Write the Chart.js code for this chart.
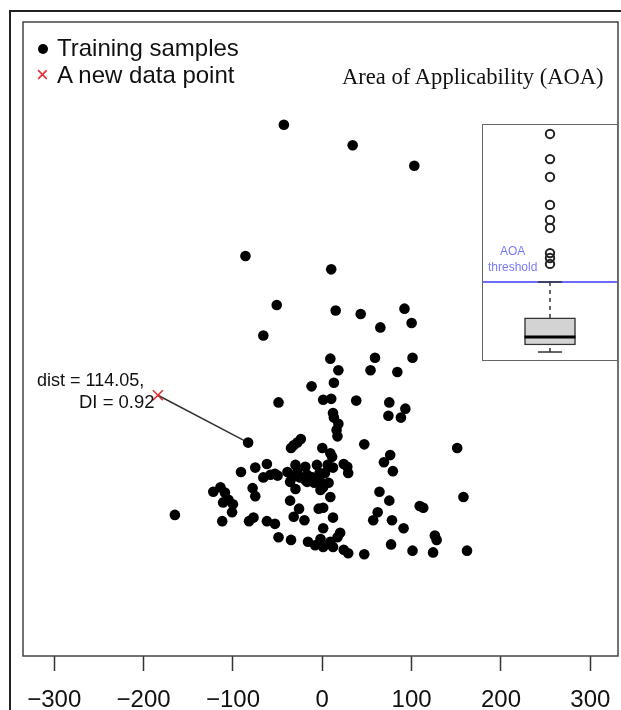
<!DOCTYPE html>
<html>
<head>
<meta charset="utf-8">
<script src="https://cdn.jsdelivr.net/npm/chart.js@4.4.1/dist/chart.umd.min.js"></script>
<style>
  html, body { margin: 0; padding: 0; background: #fff; overflow: hidden; }
  #wrap { position: relative; width: 621px; height: 710px; overflow: hidden; }
  #frame { position: absolute; left: 9px; top: 10px; width: 700px; height: 800px; border: 2px solid #222; box-sizing: border-box; }
  #main { position: absolute; left: 0; top: 0; }
  #inset { position: absolute; left: 482px; top: 124px; width: 134px; height: 235px; border: 1px solid #666; background: #fff; }
  #insetCanvas { display: block; }
  .txt { position: absolute; white-space: nowrap; font-family: 'Liberation Sans', Arial, sans-serif; color: #111; }
  .dot { position: absolute; left: 38px; top: 44px; width: 10px; height: 10px; border-radius: 50%; background: #000; }
</style>
</head>
<body>
<div id="wrap">
  <div id="frame"></div>
  <canvas id="main" width="621" height="710"></canvas>
  <div id="inset"><canvas id="insetCanvas" width="134" height="235"></canvas></div>

  <div class="dot"></div>
  <div class="txt" style="left:57px; top:36px; font-size:24px; line-height:24px;">Training samples</div>
  <div class="txt" style="left:36px; top:63px; font-size:22px; line-height:24px; color:#e8262b;">&times;</div>
  <div class="txt" style="left:57px; top:63px; font-size:24px; line-height:24px;">A new data point</div>
  <div class="txt" style="left:342px; top:66px; font-size:22.6px; line-height:22px; font-family:'Liberation Serif','Times New Roman',serif;">Area of Applicability (AOA)</div>

  <div class="txt" style="left:37px; top:371px; font-size:18px; line-height:18px;">dist = 114.05,</div>
  <div class="txt" style="left:79px; top:393px; font-size:18.5px; line-height:18px;">DI = 0.92</div>

  <div class="txt" style="left:500px; top:245px; font-size:12px; line-height:12px; color:#7a7aff;">AOA</div>
  <div class="txt" style="left:488px; top:261px; font-size:12px; line-height:12px; color:#7a7aff;">threshold</div>
</div>

<script>
// training samples (feature space, same units on both axes)
const trainX = [-43, 34, 103, -86, 10, -51, 15, 43, 92, 100, 65, -66, 9, 59, 101, 18, 54, 84, -12, 13,
  -49, 1, 10, 38, 75, 93, 12, 13, 74, 88, 18, 16, 17, -83, -24, -28, -32, -35, 0, 47,
  9, 151, 76, 69, 79, -91, -75, -62, -66, -58, -53, -39, -34, -30, -28, -25, -19, -17, -30, -9,
  -6, -3, 1, 3, 6, 12, 24, 28, 29, 9, -2, -17, -122, -114, -109, -105, -111, -100, -101, -78,
  -75, -165, -112, -82, -77, -62, -53, -36, -26, -32, -20, -4, 1, 12, 1, -49, -35, -16, -8, -2,
  1, 9, 12, 17, 20, 24, 29, 47, 64, 75, 62, 57, 78, 91, 77, 101, 109, 113, 126, 128,
  124, 158, 162, -50, -36, -11, -2, 7, 11, -19];
const trainY = [240, 217, 194, 93, 78, 38, 32, 28, 34, 18, 13, 4, -22, -21, -21, -35, -35, -37, -53, -49,
  -71, -68, -67, -69, -71, -78, -83, -88, -86, -88, -95, -102, -109, -116, -112, -116, -119, -122, -122, -118,
  -128, -122, -130, -138, -148, -149, -144, -140, -155, -152, -151, -149, -155, -141, -149, -155, -143, -160, -168, -161,
  -141, -150, -166, -150, -141, -144, -140, -143, -150, -177, -169, -152, -171, -166, -172, -180, -183, -185, -194, -167,
  -176, -197, -204, -204, -200, -204, -207, -181, -190, -199, -203, -190, -189, -200, -212, -222, -225, -227, -231, -224,
  -233, -227, -233, -222, -217, -236, -240, -241, -171, -181, -194, -203, -203, -212, -230, -237, -187, -189, -220, -225,
  -239, -177, -237, -153, -160, -155, -160, -161, -132, -158];

// new data point and its nearest training sample
const newX = [-184];
const newY = [-63];
const nearestX = [-83];
const nearestY = [-116];

const xTicks = [-300, -200, -100, 0, 100, 200, 300];

// inset: dissimilarity index (DI) of the training data
const diOutliers = [0.962, 0.855, 0.779, 0.660, 0.596, 0.562, 0.455, 0.434, 0.409];
const diWhiskerLow = 0.034;
const diQ1 = 0.064;
const diMedian = 0.098;
const diQ3 = 0.179;
const diWhiskerHigh = 0.332;
const aoaThreshold = 0.332;

const boxPlugin = {
  id: 'box',
  beforeDatasetsDraw(chart) {
    const { ctx, chartArea: a } = chart;
    ctx.save();
    ctx.strokeStyle = '#444';
    ctx.lineWidth = 1.5;
    ctx.strokeRect(a.left, a.top, a.right - a.left, a.bottom - a.top);
    ctx.restore();
  }
};

const trainData = trainX.map((x, i) => ({ x: x, y: trainY[i] }));

new Chart(document.getElementById('main'), {
  type: 'scatter',
  data: {
    datasets: [
      {
        data: trainData,
        pointRadius: 5.3,
        pointBackgroundColor: '#000',
        pointBorderWidth: 0
      },
      {
        data: [{ x: newX[0], y: newY[0] }],
        pointStyle: 'crossRot',
        pointRadius: 7,
        pointBorderColor: '#e8262b',
        pointBorderWidth: 1.5
      },
      {
        type: 'line',
        data: [{ x: newX[0], y: newY[0] }, { x: nearestX[0], y: nearestY[0] }],
        borderColor: '#333',
        borderWidth: 1.5,
        pointRadius: 0
      }
    ]
  },
  options: {
    responsive: false,
    animation: false,
    layout: { autoPadding: false, padding: { left: 23, right: 3, top: 22, bottom: 0 } },
    plugins: { legend: { display: false }, tooltip: { enabled: false } },
    scales: {
      x: {
        type: 'linear',
        min: -335,
        max: 331,
        afterBuildTicks: s => { s.ticks = xTicks.map(v => ({ value: v })); },
        afterFit: s => { s.height = 54; s.paddingLeft = 0; s.paddingRight = 0; },
        grid: { drawOnChartArea: false, drawTicks: true, tickLength: 15, tickColor: '#333', tickWidth: 1.5 },
        border: { display: false },
        ticks: {
          font: { family: 'Liberation Sans', size: 24 },
          color: '#111',
          padding: 15,
          maxRotation: 0,
          autoSkip: false,
          callback: v => String(v).replace('-', '\u2212')
        }
      },
      y: { display: false, min: -355, max: 355 }
    }
  },
  plugins: [boxPlugin]
});

// inset boxplot
new Chart(document.getElementById('insetCanvas'), {
  type: 'scatter',
  data: {
    datasets: [
      {
        data: diOutliers.map(v => ({ x: 0.5, y: v })),
        pointRadius: 4.2,
        pointBackgroundColor: 'rgba(0,0,0,0)',
        pointBorderColor: '#222',
        pointBorderWidth: 2
      },
      {
        type: 'line',
        data: [{ x: 0.31, y: diMedian }, { x: 0.69, y: diMedian }],
        borderColor: '#000', borderWidth: 3, pointRadius: 0
      },
      {
        type: 'line',
        data: [{ x: 0.41, y: diWhiskerHigh }, { x: 0.59, y: diWhiskerHigh }],
        borderColor: '#333', borderWidth: 1.5, pointRadius: 0
      },
      {
        type: 'line',
        data: [{ x: 0.41, y: diWhiskerLow }, { x: 0.59, y: diWhiskerLow }],
        borderColor: '#333', borderWidth: 1.5, pointRadius: 0
      },
      {
        type: 'line',
        data: [{ x: 0.5, y: diQ3 }, { x: 0.5, y: diWhiskerHigh }],
        borderColor: '#333', borderWidth: 1.5, borderDash: [4, 4], pointRadius: 0
      },
      {
        type: 'line',
        data: [{ x: 0.5, y: diWhiskerLow }, { x: 0.5, y: diQ1 }],
        borderColor: '#333', borderWidth: 1.5, borderDash: [4, 4], pointRadius: 0
      },
      {
        type: 'line',
        data: [{ x: 0, y: aoaThreshold }, { x: 1, y: aoaThreshold }],
        borderColor: '#6b6bff', borderWidth: 2, pointRadius: 0
      },
      {
        type: 'bar',
        data: [{ x: 0.5, y: [diQ1, diQ3] }],
        backgroundColor: '#d3d3d3',
        borderColor: '#333',
        borderWidth: 1.5,
        borderSkipped: false,
        barThickness: 51
      }
    ]
  },
  options: {
    responsive: false,
    animation: false,
    layout: { autoPadding: false, padding: 0 },
    plugins: { legend: { display: false }, tooltip: { enabled: false } },
    scales: {
      x: { type: 'linear', min: 0, max: 1, offset: false, display: false },
      y: { type: 'linear', min: 0, max: 1, display: false }
    }
  }
});
</script>
</body>
</html>
